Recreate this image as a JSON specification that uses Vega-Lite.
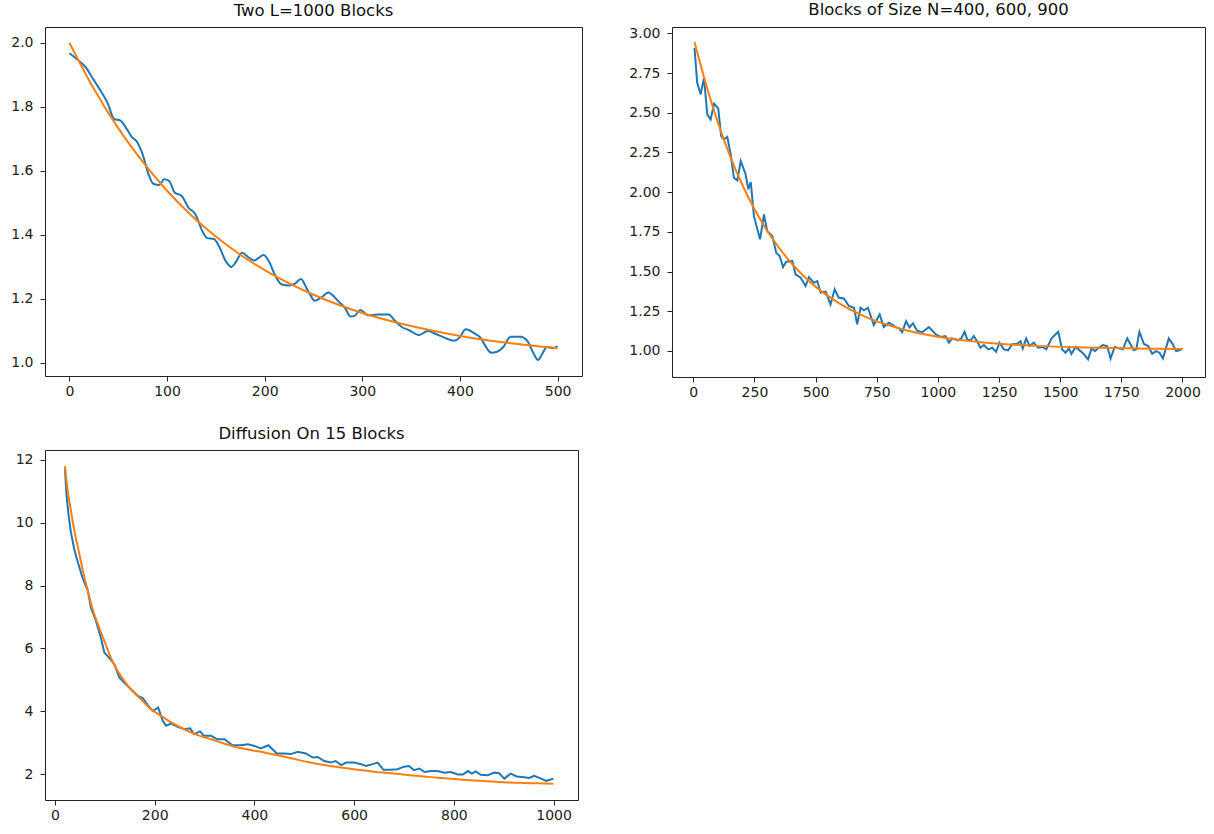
{
  "$schema": "https://vega.github.io/schema/vega-lite/v6.json",
  "background": "white",
  "padding": {"left": 10, "top": 1, "right": 0, "bottom": 0},
  "columns": 2,
  "align": "none",
  "bounds": "full",
  "spacing": {"column": 45, "row": 25},
  "datasets": {
    "twoBlocksSim": [
      {"x": 0, "y": 1.967}, {"x": 8, "y": 1.948}, {"x": 17, "y": 1.922}, {"x": 24, "y": 1.888},
      {"x": 30, "y": 1.859}, {"x": 39, "y": 1.812}, {"x": 46, "y": 1.761}, {"x": 52, "y": 1.757},
      {"x": 59, "y": 1.729}, {"x": 64, "y": 1.705}, {"x": 69, "y": 1.691}, {"x": 75, "y": 1.651},
      {"x": 81, "y": 1.589}, {"x": 86, "y": 1.559}, {"x": 92, "y": 1.555}, {"x": 97, "y": 1.573},
      {"x": 102, "y": 1.568}, {"x": 108, "y": 1.531}, {"x": 115, "y": 1.521}, {"x": 122, "y": 1.484},
      {"x": 129, "y": 1.464}, {"x": 136, "y": 1.412}, {"x": 141, "y": 1.389}, {"x": 148, "y": 1.386},
      {"x": 153, "y": 1.365}, {"x": 160, "y": 1.318}, {"x": 166, "y": 1.299}, {"x": 170, "y": 1.312},
      {"x": 177, "y": 1.343}, {"x": 183, "y": 1.330}, {"x": 189, "y": 1.319}, {"x": 199, "y": 1.336},
      {"x": 204, "y": 1.318}, {"x": 211, "y": 1.271}, {"x": 217, "y": 1.245}, {"x": 225, "y": 1.241},
      {"x": 231, "y": 1.247}, {"x": 237, "y": 1.261}, {"x": 243, "y": 1.232}, {"x": 247, "y": 1.210},
      {"x": 251, "y": 1.193}, {"x": 258, "y": 1.203}, {"x": 265, "y": 1.219}, {"x": 275, "y": 1.193},
      {"x": 282, "y": 1.172}, {"x": 288, "y": 1.144}, {"x": 292, "y": 1.146}, {"x": 298, "y": 1.164},
      {"x": 306, "y": 1.148}, {"x": 316, "y": 1.150}, {"x": 327, "y": 1.150}, {"x": 333, "y": 1.132},
      {"x": 340, "y": 1.112}, {"x": 348, "y": 1.101}, {"x": 358, "y": 1.086}, {"x": 367, "y": 1.099},
      {"x": 374, "y": 1.091}, {"x": 384, "y": 1.078}, {"x": 394, "y": 1.068}, {"x": 399, "y": 1.076},
      {"x": 406, "y": 1.104}, {"x": 415, "y": 1.091}, {"x": 421, "y": 1.078}, {"x": 426, "y": 1.052},
      {"x": 432, "y": 1.031}, {"x": 438, "y": 1.034}, {"x": 444, "y": 1.047}, {"x": 452, "y": 1.081},
      {"x": 462, "y": 1.081}, {"x": 469, "y": 1.068}, {"x": 475, "y": 1.031}, {"x": 480, "y": 1.008},
      {"x": 484, "y": 1.026}, {"x": 489, "y": 1.049}, {"x": 495, "y": 1.045}, {"x": 500, "y": 1.051}
    ],
    "twoBlocksFit": [
      {"x": 0, "y": 2.000}, {"x": 25, "y": 1.856}, {"x": 50, "y": 1.733}, {"x": 75, "y": 1.628},
      {"x": 100, "y": 1.537}, {"x": 125, "y": 1.460}, {"x": 150, "y": 1.394}, {"x": 175, "y": 1.337},
      {"x": 200, "y": 1.289}, {"x": 250, "y": 1.212}, {"x": 300, "y": 1.155}, {"x": 350, "y": 1.114},
      {"x": 400, "y": 1.083}, {"x": 450, "y": 1.061}, {"x": 500, "y": 1.045}
    ],
    "mixedBlocksSim": [
      {"x": 5, "y": 2.909}, {"x": 16, "y": 2.689}, {"x": 30, "y": 2.616}, {"x": 44, "y": 2.720},
      {"x": 57, "y": 2.490}, {"x": 71, "y": 2.458}, {"x": 85, "y": 2.557}, {"x": 102, "y": 2.528},
      {"x": 114, "y": 2.353}, {"x": 125, "y": 2.332}, {"x": 139, "y": 2.347}, {"x": 153, "y": 2.238},
      {"x": 166, "y": 2.091}, {"x": 180, "y": 2.074}, {"x": 194, "y": 2.196}, {"x": 214, "y": 2.112},
      {"x": 225, "y": 2.018}, {"x": 235, "y": 2.064}, {"x": 248, "y": 1.849}, {"x": 262, "y": 1.766},
      {"x": 273, "y": 1.703}, {"x": 289, "y": 1.860}, {"x": 302, "y": 1.755}, {"x": 323, "y": 1.724},
      {"x": 339, "y": 1.618}, {"x": 353, "y": 1.598}, {"x": 367, "y": 1.528}, {"x": 380, "y": 1.562},
      {"x": 405, "y": 1.566}, {"x": 418, "y": 1.482}, {"x": 439, "y": 1.461}, {"x": 459, "y": 1.409},
      {"x": 473, "y": 1.465}, {"x": 493, "y": 1.429}, {"x": 507, "y": 1.440}, {"x": 521, "y": 1.367},
      {"x": 541, "y": 1.373}, {"x": 561, "y": 1.293}, {"x": 578, "y": 1.388}, {"x": 595, "y": 1.335},
      {"x": 616, "y": 1.331}, {"x": 636, "y": 1.283}, {"x": 657, "y": 1.272}, {"x": 670, "y": 1.168},
      {"x": 684, "y": 1.272}, {"x": 698, "y": 1.256}, {"x": 714, "y": 1.272}, {"x": 738, "y": 1.163},
      {"x": 762, "y": 1.230}, {"x": 779, "y": 1.151}, {"x": 800, "y": 1.178}, {"x": 827, "y": 1.150},
      {"x": 841, "y": 1.142}, {"x": 854, "y": 1.118}, {"x": 870, "y": 1.188}, {"x": 884, "y": 1.148},
      {"x": 898, "y": 1.175}, {"x": 915, "y": 1.128}, {"x": 936, "y": 1.118}, {"x": 963, "y": 1.150},
      {"x": 991, "y": 1.105}, {"x": 1011, "y": 1.088}, {"x": 1031, "y": 1.094}, {"x": 1045, "y": 1.052},
      {"x": 1058, "y": 1.079}, {"x": 1083, "y": 1.067}, {"x": 1097, "y": 1.083}, {"x": 1109, "y": 1.121},
      {"x": 1120, "y": 1.073}, {"x": 1134, "y": 1.067}, {"x": 1147, "y": 1.094}, {"x": 1161, "y": 1.058},
      {"x": 1174, "y": 1.020}, {"x": 1188, "y": 1.037}, {"x": 1206, "y": 1.010}, {"x": 1222, "y": 1.020},
      {"x": 1238, "y": 0.995}, {"x": 1252, "y": 1.052}, {"x": 1270, "y": 1.010}, {"x": 1287, "y": 1.004},
      {"x": 1304, "y": 1.042}, {"x": 1324, "y": 1.045}, {"x": 1338, "y": 1.062}, {"x": 1347, "y": 1.016},
      {"x": 1361, "y": 1.079}, {"x": 1375, "y": 1.031}, {"x": 1392, "y": 1.052}, {"x": 1410, "y": 1.020},
      {"x": 1429, "y": 1.025}, {"x": 1443, "y": 1.010}, {"x": 1465, "y": 1.079}, {"x": 1492, "y": 1.121},
      {"x": 1508, "y": 1.010}, {"x": 1522, "y": 0.989}, {"x": 1536, "y": 1.016}, {"x": 1546, "y": 0.982},
      {"x": 1563, "y": 1.025}, {"x": 1583, "y": 0.999}, {"x": 1597, "y": 0.979}, {"x": 1614, "y": 0.947},
      {"x": 1628, "y": 1.016}, {"x": 1642, "y": 0.999}, {"x": 1658, "y": 1.020}, {"x": 1674, "y": 1.037},
      {"x": 1692, "y": 1.031}, {"x": 1706, "y": 0.953}, {"x": 1723, "y": 1.025}, {"x": 1743, "y": 1.016},
      {"x": 1756, "y": 1.010}, {"x": 1774, "y": 1.079}, {"x": 1801, "y": 1.004}, {"x": 1811, "y": 1.010},
      {"x": 1824, "y": 1.121}, {"x": 1842, "y": 1.045}, {"x": 1860, "y": 1.031}, {"x": 1876, "y": 0.982},
      {"x": 1892, "y": 0.999}, {"x": 1906, "y": 0.989}, {"x": 1920, "y": 0.953}, {"x": 1944, "y": 1.079},
      {"x": 1960, "y": 1.042}, {"x": 1974, "y": 0.999}, {"x": 1988, "y": 1.004}, {"x": 2000, "y": 1.016}
    ],
    "mixedBlocksFit": [
      {"x": 5, "y": 2.945}, {"x": 50, "y": 2.691}, {"x": 100, "y": 2.441}, {"x": 150, "y": 2.229},
      {"x": 200, "y": 2.048}, {"x": 250, "y": 1.894}, {"x": 300, "y": 1.762}, {"x": 350, "y": 1.651},
      {"x": 400, "y": 1.555}, {"x": 450, "y": 1.474}, {"x": 500, "y": 1.405}, {"x": 600, "y": 1.297},
      {"x": 700, "y": 1.218}, {"x": 800, "y": 1.161}, {"x": 900, "y": 1.119}, {"x": 1000, "y": 1.089},
      {"x": 1100, "y": 1.067}, {"x": 1200, "y": 1.052}, {"x": 1400, "y": 1.032}, {"x": 1600, "y": 1.022},
      {"x": 1800, "y": 1.016}, {"x": 2000, "y": 1.013}
    ],
    "fifteenBlocksSim": [
      {"x": 20, "y": 11.72}, {"x": 23, "y": 10.91}, {"x": 27, "y": 10.27}, {"x": 32, "y": 9.69},
      {"x": 39, "y": 9.13}, {"x": 45, "y": 8.79}, {"x": 55, "y": 8.26}, {"x": 66, "y": 7.83},
      {"x": 72, "y": 7.30}, {"x": 82, "y": 6.88}, {"x": 92, "y": 6.35}, {"x": 99, "y": 5.87},
      {"x": 107, "y": 5.73}, {"x": 119, "y": 5.50}, {"x": 129, "y": 5.08}, {"x": 142, "y": 4.86},
      {"x": 156, "y": 4.65}, {"x": 166, "y": 4.49}, {"x": 176, "y": 4.42}, {"x": 186, "y": 4.20},
      {"x": 196, "y": 4.01}, {"x": 207, "y": 4.12}, {"x": 216, "y": 3.70}, {"x": 223, "y": 3.54},
      {"x": 233, "y": 3.61}, {"x": 246, "y": 3.51}, {"x": 259, "y": 3.43}, {"x": 271, "y": 3.46},
      {"x": 279, "y": 3.27}, {"x": 291, "y": 3.36}, {"x": 299, "y": 3.22}, {"x": 313, "y": 3.22},
      {"x": 326, "y": 3.11}, {"x": 340, "y": 3.11}, {"x": 356, "y": 2.92}, {"x": 373, "y": 2.92},
      {"x": 387, "y": 2.95}, {"x": 400, "y": 2.90}, {"x": 413, "y": 2.82}, {"x": 428, "y": 2.92},
      {"x": 445, "y": 2.66}, {"x": 460, "y": 2.66}, {"x": 473, "y": 2.64}, {"x": 487, "y": 2.71},
      {"x": 503, "y": 2.66}, {"x": 517, "y": 2.53}, {"x": 527, "y": 2.55}, {"x": 540, "y": 2.42},
      {"x": 553, "y": 2.37}, {"x": 563, "y": 2.42}, {"x": 574, "y": 2.29}, {"x": 584, "y": 2.37},
      {"x": 600, "y": 2.37}, {"x": 614, "y": 2.32}, {"x": 624, "y": 2.26}, {"x": 637, "y": 2.32},
      {"x": 647, "y": 2.37}, {"x": 659, "y": 2.14}, {"x": 674, "y": 2.14}, {"x": 687, "y": 2.16},
      {"x": 700, "y": 2.24}, {"x": 710, "y": 2.26}, {"x": 720, "y": 2.13}, {"x": 731, "y": 2.18},
      {"x": 741, "y": 2.07}, {"x": 754, "y": 2.10}, {"x": 767, "y": 2.10}, {"x": 781, "y": 2.05},
      {"x": 794, "y": 2.07}, {"x": 808, "y": 1.99}, {"x": 818, "y": 1.99}, {"x": 828, "y": 2.10},
      {"x": 836, "y": 2.02}, {"x": 844, "y": 2.09}, {"x": 854, "y": 1.98}, {"x": 868, "y": 1.97},
      {"x": 881, "y": 2.05}, {"x": 891, "y": 2.03}, {"x": 901, "y": 1.86}, {"x": 914, "y": 2.02},
      {"x": 926, "y": 1.93}, {"x": 941, "y": 1.90}, {"x": 951, "y": 1.88}, {"x": 961, "y": 1.95},
      {"x": 975, "y": 1.86}, {"x": 985, "y": 1.79}, {"x": 1000, "y": 1.86}
    ],
    "fifteenBlocksFit": [
      {"x": 20, "y": 11.80}, {"x": 25, "y": 11.10}, {"x": 32, "y": 10.38}, {"x": 40, "y": 9.65},
      {"x": 49, "y": 9.00}, {"x": 57, "y": 8.40}, {"x": 66, "y": 7.83}, {"x": 75, "y": 7.28},
      {"x": 86, "y": 6.77}, {"x": 100, "y": 6.20}, {"x": 112, "y": 5.71}, {"x": 125, "y": 5.30},
      {"x": 139, "y": 4.97}, {"x": 155, "y": 4.65}, {"x": 172, "y": 4.39}, {"x": 190, "y": 4.10},
      {"x": 213, "y": 3.855}, {"x": 235, "y": 3.63}, {"x": 259, "y": 3.43}, {"x": 285, "y": 3.25},
      {"x": 313, "y": 3.11}, {"x": 340, "y": 2.97}, {"x": 366, "y": 2.85}, {"x": 392, "y": 2.77},
      {"x": 420, "y": 2.69}, {"x": 447, "y": 2.60}, {"x": 473, "y": 2.51}, {"x": 507, "y": 2.39},
      {"x": 540, "y": 2.29}, {"x": 573, "y": 2.21}, {"x": 607, "y": 2.14}, {"x": 640, "y": 2.08},
      {"x": 674, "y": 2.03}, {"x": 707, "y": 1.975}, {"x": 740, "y": 1.927}, {"x": 774, "y": 1.88},
      {"x": 807, "y": 1.84}, {"x": 840, "y": 1.80}, {"x": 874, "y": 1.767}, {"x": 907, "y": 1.74},
      {"x": 941, "y": 1.72}, {"x": 970, "y": 1.71}, {"x": 1000, "y": 1.70}
    ]
  },
  "concat": [
    {
      "title": "Two L=1000 Blocks",
      "width": 537,
      "height": 349,
      "layer": [
        {
          "data": {"name": "twoBlocksSim"},
          "mark": {"type": "line", "color": "#1f77b4", "strokeWidth": 2, "interpolate": "monotone"},
          "encoding": {
            "x": {"field": "x", "type": "quantitative", "scale": {"domain": [-25, 525], "nice": false, "zero": false}, "axis": {"values": [0, 100, 200, 300, 400, 500], "format": "d"}},
            "y": {"field": "y", "type": "quantitative", "scale": {"domain": [0.958, 2.049], "nice": false, "zero": false}, "axis": {"values": [1.0, 1.2, 1.4, 1.6, 1.8, 2.0], "format": ".1f"}}
          }
        },
        {
          "data": {"name": "twoBlocksFit"},
          "mark": {"type": "line", "color": "#ff7f0e", "strokeWidth": 2, "interpolate": "monotone"},
          "encoding": {
            "x": {"field": "x", "type": "quantitative"},
            "y": {"field": "y", "type": "quantitative"}
          }
        }
      ]
    },
    {
      "title": "Blocks of Size N=400, 600, 900",
      "width": 533,
      "height": 350,
      "layer": [
        {
          "data": {"name": "mixedBlocksSim"},
          "mark": {"type": "line", "color": "#1f77b4", "strokeWidth": 2},
          "encoding": {
            "x": {"field": "x", "type": "quantitative", "scale": {"domain": [-87, 2092], "nice": false, "zero": false}, "axis": {"values": [0, 250, 500, 750, 1000, 1250, 1500, 1750, 2000], "format": "d"}},
            "y": {"field": "y", "type": "quantitative", "scale": {"domain": [0.836, 3.04], "nice": false, "zero": false}, "axis": {"values": [1.0, 1.25, 1.5, 1.75, 2.0, 2.25, 2.5, 2.75, 3.0], "format": ".2f"}}
          }
        },
        {
          "data": {"name": "mixedBlocksFit"},
          "mark": {"type": "line", "color": "#ff7f0e", "strokeWidth": 2, "interpolate": "monotone"},
          "encoding": {
            "x": {"field": "x", "type": "quantitative"},
            "y": {"field": "y", "type": "quantitative"}
          }
        }
      ]
    },
    {
      "title": "Diffusion On 15 Blocks",
      "width": 533,
      "height": 350,
      "layer": [
        {
          "data": {"name": "fifteenBlocksSim"},
          "mark": {"type": "line", "color": "#1f77b4", "strokeWidth": 2},
          "encoding": {
            "x": {"field": "x", "type": "quantitative", "scale": {"domain": [-20, 1049], "nice": false, "zero": false}, "axis": {"values": [0, 200, 400, 600, 800, 1000], "format": "d"}},
            "y": {"field": "y", "type": "quantitative", "scale": {"domain": [1.18, 12.31], "nice": false, "zero": false}, "axis": {"values": [2, 4, 6, 8, 10, 12], "format": "d"}}
          }
        },
        {
          "data": {"name": "fifteenBlocksFit"},
          "mark": {"type": "line", "color": "#ff7f0e", "strokeWidth": 2, "interpolate": "monotone"},
          "encoding": {
            "x": {"field": "x", "type": "quantitative"},
            "y": {"field": "y", "type": "quantitative"}
          }
        }
      ]
    }
  ],
  "config": {
    "font": "DejaVu Sans",
    "view": {"stroke": "#222", "strokeWidth": 1},
    "axis": {
      "title": null,
      "domain": false,
      "grid": false,
      "ticks": true,
      "tickSize": 5,
      "tickWidth": 1,
      "tickColor": "#222",
      "labelFont": "DejaVu Sans",
      "labelFontSize": 14,
      "labelColor": "#222",
      "labelFlush": false,
      "labelOverlap": false
    },
    "axisX": {"labelPadding": 3},
    "axisY": {"labelPadding": 7},
    "title": {
      "font": "DejaVu Sans",
      "fontSize": 16.5,
      "fontWeight": "normal",
      "color": "#111",
      "offset": 8,
      "anchor": "middle"
    }
  }
}
